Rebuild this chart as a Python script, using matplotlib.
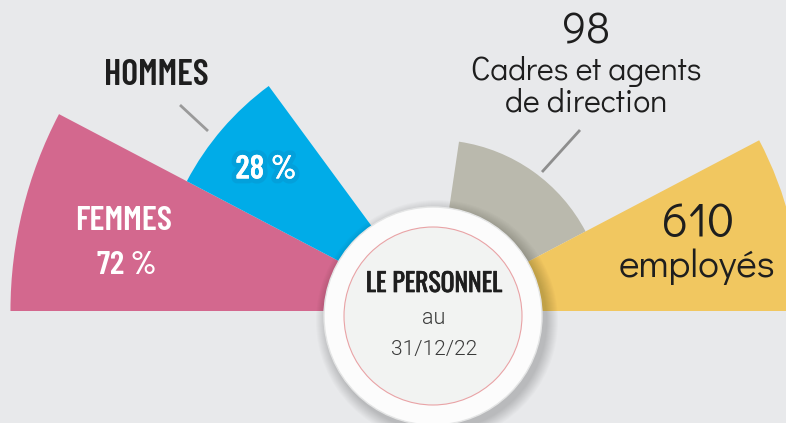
import numpy as np
import matplotlib
matplotlib.use("Agg")
import matplotlib.pyplot as plt
from matplotlib.patches import Wedge, Circle
from matplotlib import font_manager
import matplotlib.patheffects as pe

# ---------------- data ----------------
gender_labels = ["FEMMES", "HOMMES"]
gender_pct = [72, 28]
staff_labels = ["Cadres et agents\nde direction", "employés"]
staff_counts = [98, 610]
center_title = ["LE PERSONNEL", "au", "31/12/22"]

# ---------------- style ----------------
BG = "#E8E9EB"
PINK = "#D3688E"
BLUE = "#00ACE8"
GREY = "#BAB9AD"
YELLOW = "#F1C760"

names = {f.name for f in font_manager.fontManager.ttflist}

def pick(cands):
    for c in cands:
        if c in names:
            return [c, "DejaVu Sans"]
    return ["DejaVu Sans"]

COND = pick(["Barlow Condensed", "Roboto Condensed", "Oswald", "Archivo Narrow"])
NARROW = pick(["Oswald", "Barlow Condensed", "Roboto Condensed"])
GEO = pick(["Didact Gothic", "Questrial", "Mulish", "Lato"])
LIGHT = pick(["Roboto", "Heebo", "Lato"])

W, H = 786, 423
fig = plt.figure(figsize=(W / 100, H / 100), dpi=100, facecolor=BG)
ax = fig.add_axes([0, 0, 1, 1])
ax.set_xlim(0, W)
ax.set_ylim(0, H)
ax.set_aspect("equal")
ax.axis("off")
ax.set_facecolor(BG)

cx, cy = 434, H - 311  # common apex of the wedges

# radius scale: r = base + k*sqrt(value)
R_BASE = 40
K_GENDER = 45.2
K_STAFF = 13.25

def rad(v, k):
    return R_BASE + k * np.sqrt(v)

# left side (gender): from 180 deg going clockwise
gender_colors = [PINK, BLUE]
gender_spans = [27.7, 26.0]
start = 180
for val, col, sp in zip(gender_pct, gender_colors, gender_spans):
    ax.add_patch(Wedge((cx, cy), rad(val, K_GENDER), start - sp, start,
                       facecolor=col, edgecolor="none", zorder=2))
    start -= sp

# right side (staff)
staff_spans = [(27.7, 81.6), (0, 27.7)]
staff_colors = [GREY, YELLOW]
for val, col, (a0, a1) in zip(staff_counts, staff_colors, staff_spans):
    ax.add_patch(Wedge((cx, cy), rad(val, K_STAFF), a0, a1,
                       facecolor=col, edgecolor="none", zorder=2))

# central disc with soft shadow
ccx, ccy = 433, H - 316
for i in range(12):
    ax.add_patch(Circle((ccx + 4, ccy - 5), 109 + 12 - i, facecolor="black",
                        alpha=0.017, edgecolor="none", zorder=3))
ax.add_patch(Circle((ccx, ccy), 109, facecolor="#FCFCFC", edgecolor="#E4E5E5",
                    lw=1.0, zorder=4))
ax.add_patch(Circle((ccx, ccy), 89, facecolor="#F2F3F2", edgecolor="#E9A3A6",
                    lw=0.8, zorder=5))

CW = 600  # weight of condensed labels

# texts in the centre
ax.text(434, H - 284, center_title[0], ha="center", va="center", fontsize=18.5,
        family=NARROW, fontweight="bold", color="#1E1E1E", zorder=6,
        path_effects=[pe.withStroke(linewidth=0.5, foreground="#1E1E1E")])
ax.text(434, H - 319, center_title[1], ha="center", va="center", fontsize=15.5,
        family=LIGHT, fontweight=300, color="#3A3A3A", zorder=6)
ax.text(434, H - 349, center_title[2], ha="center", va="center", fontsize=15,
        family=LIGHT, fontweight=300, color="#3A3A3A", zorder=6)

# gender labels
ax.text(124, H - 221, gender_labels[0], ha="center", va="center", fontsize=25,
        family=COND, fontweight=CW, color="white", zorder=6)
ax.text(127, H - 265, f"{gender_pct[0]} %", ha="center", va="center", fontsize=24,
        family=COND, fontweight=CW, color="white", zorder=6)
ax.text(266, H - 170, f"{gender_pct[1]} %", ha="center", va="center", fontsize=24,
        family=COND, fontweight=CW, color="white", zorder=7,
        path_effects=[pe.withStroke(linewidth=7, foreground="#0A8CC4", alpha=0.35),
                      pe.Normal()])
ax.text(156, H - 75, gender_labels[1], ha="center", va="center", fontsize=26,
        family=COND, fontweight=CW, color="#1E1E1E", zorder=6)
ax.plot([180, 208], [H - 105, H - 131], color="#9A9A9A", lw=2, zorder=6,
        solid_capstyle="butt")

# staff labels
ax.text(586, H - 32, f"{staff_counts[0]}", ha="center", va="center", fontsize=31,
        family=GEO, color="#1E1E1E", zorder=6)
ax.text(586, H - 87, staff_labels[0], ha="center", va="center", fontsize=23,
        family=GEO, color="#1E1E1E", linespacing=1.0, zorder=6)
ax.plot([580, 542], [H - 130, H - 172], color="#8E8E8E", lw=2, zorder=6,
        solid_capstyle="butt")
ax.text(698, H - 223, f"{staff_counts[1]}", ha="center", va="center", fontsize=34,
        family=GEO, color="#1E1E1E", zorder=6)
ax.text(697, H - 267, staff_labels[1], ha="center", va="center", fontsize=28,
        family=GEO, color="#1E1E1E", zorder=6)

fig.savefig("out.png", dpi=100, facecolor=BG)
